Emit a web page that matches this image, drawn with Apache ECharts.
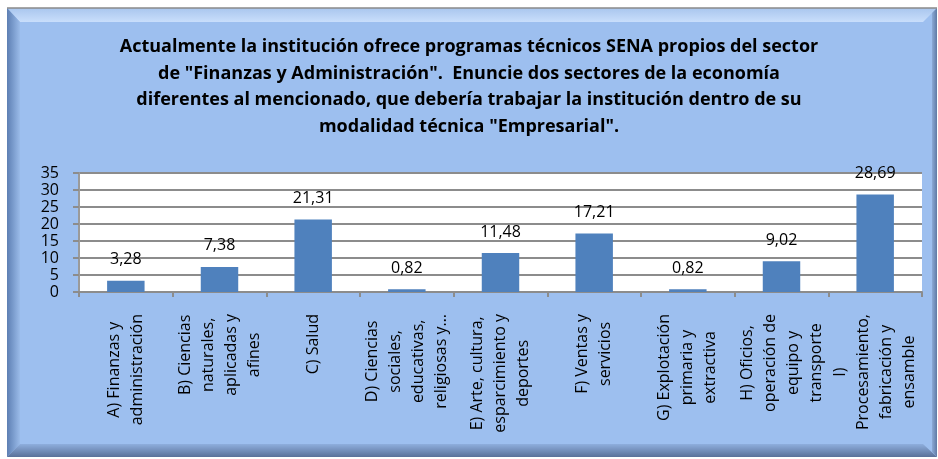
<!DOCTYPE html>
<html>
<head>
<meta charset="utf-8">
<script src="https://cdn.jsdelivr.net/npm/echarts@6/dist/echarts.min.js"></script>
<style>
html,body{margin:0;padding:0;background:#fff;}
#chart{width:938px;height:459px;}
</style>
</head>
<body>
<div id="chart"></div>
<script>
var titleText = 'Actualmente la institución ofrece programas técnicos SENA propios del sector\nde "Finanzas y Administración".  Enuncie dos sectores de la economía\ndiferentes al mencionado, que debería trabajar la institución dentro de su\nmodalidad técnica "Empresarial".';
var categories = [
  'A) Finanzas y\nadministración',
  'B) Ciencias\nnaturales,\naplicadas y\nafines',
  'C) Salud',
  'D) Ciencias\nsociales,\neducativas,\nreligiosas y…',
  'E) Arte, cultura,\nesparcimiento y\ndeportes',
  'F) Ventas y\nservicios',
  'G) Explotación\nprimaria y\nextractiva',
  'H) Oficios,\noperación de\nequipo y\ntransporte',
  'I)\nProcesamiento,\nfabricación y\nensamble'
];
var values = [3.28, 7.38, 21.31, 0.82, 11.48, 17.21, 0.82, 9.02, 28.69];
var yTicks = [0, 5, 10, 15, 20, 25, 30, 35];

var FONT = '"Open Sans", "Noto Sans", sans-serif';
var FILL = '#9DBFEF';

var chart = echarts.init(document.getElementById('chart'), null, {renderer: 'canvas'});

function lg(x, y, x2, y2, c0, c1) {
  return new echarts.graphic.LinearGradient(x, y, x2, y2, [{offset: 0, color: c0}, {offset: 1, color: c1}]);
}

var option = {
  backgroundColor: '#ffffff',
  animation: false,
  graphic: [
    {type: 'rect', z: -10, shape: {x: 7, y: 8, width: 930, height: 449}, style: {fill: FILL}},
    {type: 'polygon', z: -9, shape: {points: [[7, 8], [937, 8], [923, 22], [20, 22]]}, style: {fill: lg(0, 0, 0, 1, '#a9c6ee', '#c9defb')}},
    {type: 'polygon', z: -9, shape: {points: [[7, 8], [20, 22], [20, 444], [7, 457]]}, style: {fill: lg(0, 0, 1, 0, '#5d7fb3', '#9abbe9')}},
    {type: 'polygon', z: -9, shape: {points: [[7, 457], [20, 444], [923, 444], [937, 457]]}, style: {fill: lg(0, 0, 0, 1, '#8eaedd', '#5a7199')}},
    {type: 'polygon', z: -9, shape: {points: [[937, 8], [932, 13], [932, 452], [937, 457]]}, style: {fill: lg(0, 0, 1, 0, '#8caad6', '#5f7aa5')}},
    {type: 'line', z: -8, shape: {x1: 7, y1: 8, x2: 937, y2: 8}, style: {stroke: '#8a8a8a', lineWidth: 1.5}}
  ],
  title: {
    text: titleText,
    left: 'center',
    top: 29,
    textStyle: {
      fontFamily: FONT,
      fontWeight: 'bold',
      fontSize: 18,
      lineHeight: 26.5,
      color: '#000'
    }
  },
  grid: {
    left: 79,
    right: 16,
    top: 173,
    bottom: 167,
    show: true,
    backgroundColor: '#ffffff',
    borderWidth: 0,
    containLabel: false
  },
  xAxis: {
    type: 'category',
    data: categories,
    axisLine: {show: true, lineStyle: {color: '#8c8c8c', width: 2}},
    axisTick: {show: true, alignWithLabel: false, length: 5, lineStyle: {color: '#8c8c8c', width: 2}},
    axisLabel: {
      interval: 0,
      rotate: 90,
      margin: 22,
      fontFamily: FONT,
      fontSize: 16,
      lineHeight: 23,
      color: '#000',
      formatter: function (v) {
        return v.split('\n').map(function (s) { return '{c|' + s + '}'; }).join('\n');
      },
      rich: {
        c: {align: 'center', fontFamily: FONT, fontSize: 16, lineHeight: 23, color: '#000'}
      }
    }
  },
  yAxis: {
    type: 'value',
    min: yTicks[0],
    max: yTicks[yTicks.length - 1],
    interval: 5,
    axisLine: {show: true, lineStyle: {color: '#9a9a9a', width: 2}},
    axisTick: {show: true, length: 6, lineStyle: {color: '#8c8c8c', width: 2}},
    splitLine: {show: true, lineStyle: {color: '#8c8c8c', width: 2}},
    axisLabel: {
      margin: 20,
      fontFamily: FONT,
      fontSize: 16,
      color: '#000'
    }
  },
  series: [{
    type: 'bar',
    data: values,
    barWidth: '40%',
    itemStyle: {color: '#4F81BD'},
    label: {
      show: true,
      position: 'top',
      distance: 13,
      fontFamily: FONT,
      fontSize: 16,
      color: '#000',
      formatter: function (p) { return p.value.toFixed(2).replace('.', ','); }
    }
  }]
};
chart.setOption(option);
</script>
</body>
</html>
